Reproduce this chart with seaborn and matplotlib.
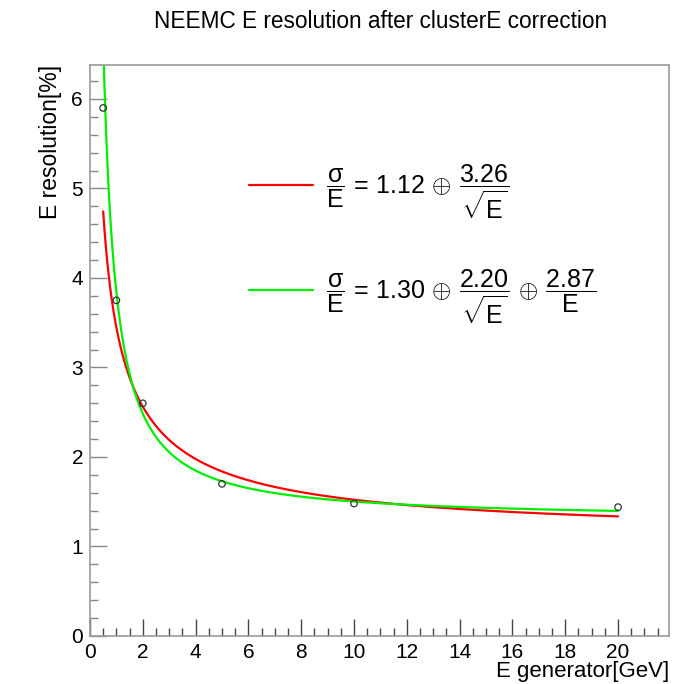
import numpy as np
import pandas as pd
import matplotlib
matplotlib.use("Agg")
import matplotlib.pyplot as plt
import seaborn as sns
from matplotlib.ticker import MultipleLocator
from matplotlib.lines import Line2D

# data points
energy = [0.5, 1.0, 2.0, 5.0, 10.0, 20.0]
resolution = [5.90, 3.75, 2.60, 1.70, 1.48, 1.44]

# fit parameters (shown in legend)
fit1_params = [1.12, 3.26]          # a (+) b/sqrt(E)
fit2_params = [1.30, 2.20, 2.87]    # a (+) b/sqrt(E) (+) c/E

sns.set_theme(style="white")
plt.rcParams['font.family'] = ['Liberation Sans', 'DejaVu Sans']
plt.rcParams['mathtext.fontset'] = 'custom'
plt.rcParams['mathtext.rm'] = 'Liberation Sans'
plt.rcParams['mathtext.it'] = 'Liberation Sans'
plt.rcParams['mathtext.bf'] = 'Liberation Sans:bold'
plt.rcParams['mathtext.sf'] = 'Liberation Sans'
plt.rcParams['text.color'] = 'black'
plt.rcParams['axes.labelcolor'] = 'black'

fig = plt.figure(figsize=(6.79, 6.84), dpi=100)
ax = fig.add_axes([0.1325, 0.0702, 0.8528, 0.8348])

E = np.linspace(min(energy), max(energy), 400)
f1 = np.sqrt(fit1_params[0]**2 + fit1_params[1]**2 / E)
f2 = np.sqrt(fit2_params[0]**2 + fit2_params[1]**2 / E + fit2_params[2]**2 / E**2)
df_fit = pd.DataFrame({"E": np.concatenate([E, E]),
                       "res": np.concatenate([f1, f2]),
                       "fit": ["f1"] * len(E) + ["f2"] * len(E)})
sns.lineplot(data=df_fit, x="E", y="res", hue="fit",
             palette={"f1": "#ff0000", "f2": "#00ee00"},
             linewidth=1.6, legend=False, ax=ax, sort=False)

df_pts = pd.DataFrame({"E": energy, "res": resolution})
sns.scatterplot(data=df_pts, x="E", y="res", marker="o", s=22,
                facecolor="none", edgecolor="#333333", linewidth=0.9, ax=ax, zorder=5)

ax.set_xlim(0, 21.93)
ax.set_ylim(0, 6.38)
ax.xaxis.set_major_locator(MultipleLocator(2))
ax.xaxis.set_minor_locator(MultipleLocator(0.5))
ax.yaxis.set_major_locator(MultipleLocator(1))
ax.yaxis.set_minor_locator(MultipleLocator(0.2))
ax.tick_params(which="both", direction="in", top=False, right=False,
               bottom=True, left=True, labelsize=15, labelcolor="black")
ax.tick_params(axis="x", which="both", color="#444444", pad=5)
ax.tick_params(axis="y", which="both", color="#888888", pad=5)
ax.tick_params(which="major", length=12, width=1)
ax.tick_params(which="minor", length=6, width=1)
for s in ax.spines.values():
    s.set_color("#999999")
    s.set_linewidth(1.2)

ax.set_xlabel("")
ax.set_ylabel("")
fig.text(0.985, 0.003, "E generator[GeV]", ha="right", va="bottom", fontsize=16)
fig.text(0.075, 0.905, "E resolution[%]", ha="center", va="top", rotation=90, fontsize=16.5)
fig.text(0.56, 0.985, "NEEMC E resolution after clusterE correction", ha="center",
         va="top", fontsize=16.3)

handles = [Line2D([], [], color="#ff0000", lw=1.6), Line2D([], [], color="#00ee00", lw=1.6)]
labels = [r"$\dfrac{\sigma}{E}\,=\,1.12\,\oplus\,\dfrac{3.26}{\sqrt{E}}$",
          r"$\dfrac{\sigma}{E}\,=\,1.30\,\oplus\,\dfrac{2.20}{\sqrt{E}}\,\oplus\,\dfrac{2.87}{E}$"]
leg = ax.legend(handles, labels, loc="upper left", bbox_to_anchor=(0.334, 0.795),
                bbox_transform=fig.transFigure, frameon=False, fontsize=18,
                handlelength=2.56, handletextpad=0.5, labelspacing=1.84)
for t in leg.get_texts():
    t.set_color("black")

fig.savefig("out.png", dpi=100)
